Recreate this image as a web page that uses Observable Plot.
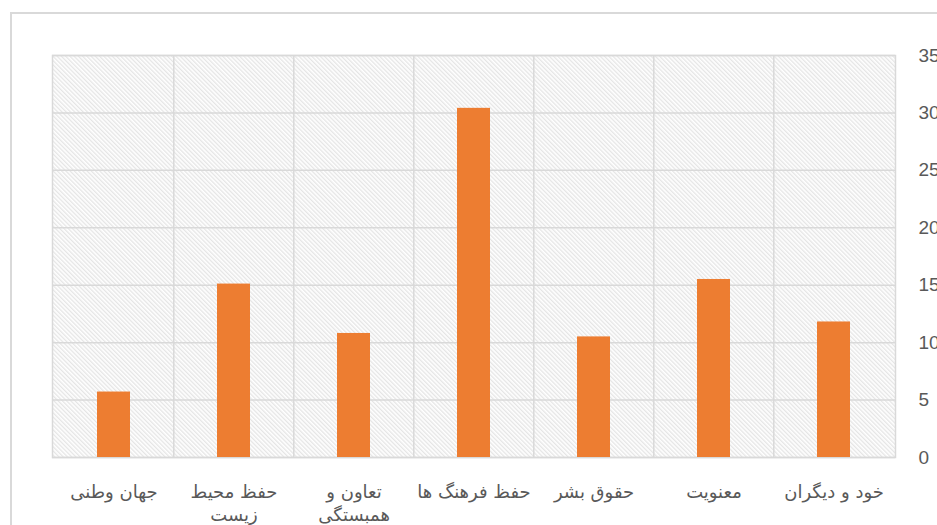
<!DOCTYPE html>
<html>
<head>
<meta charset="utf-8">
<script src="https://cdn.jsdelivr.net/npm/d3@7"></script>
<script src="https://cdn.jsdelivr.net/npm/@observablehq/plot@0.6"></script>
<style>
  html, body { margin: 0; padding: 0; background: #fff; overflow: hidden; }
  #wrap { position: relative; width: 937px; height: 525px; }
  #border { position: absolute; left: 10px; top: 12px; width: 1000px; height: 600px;
            border: 2px solid #d9d9d9; box-sizing: border-box; pointer-events: none; }
</style>
</head>
<body>
<div id="wrap"><div id="chart"></div><div id="border"></div></div>
<script>
// categories listed right-to-left as in the original chart
const categories = ["خود و دیگران", "معنویت", "حقوق بشر", "حفظ فرهنگ ها", "تعاون و همبستگی", "حفظ محیط زیست", "جهان وطنی"];
const values = [11.8, 15.5, 10.5, 30.4, 10.8, 15.1, 5.7];
const tickLabels = ["خود و دیگران", "معنویت", "حقوق بشر", "حفظ فرهنگ ها", "تعاون و\nهمبستگی", "حفظ محیط\nزیست", "جهان وطنی"];
const yTicks = [0, 5, 10, 15, 20, 25, 30, 35];

const data = categories.map((c, i) => ({category: c, value: values[i]}));
const labelOf = new Map(categories.map((c, i) => [c, tickLabels[i]]));
const domain = categories.slice().reverse();

const W = 937, H = 525, mL = 52, mR = 42, mT = 55, mB = 68;
const step = (W - mL - mR) / domain.length;

const chart = Plot.plot({
  width: W, height: H,
  marginLeft: mL, marginRight: mR, marginTop: mT, marginBottom: mB,
  style: {fontFamily: "DejaVu Sans", background: "white"},
  x: {domain, paddingInner: 0.725, paddingOuter: 0.3625},
  y: {domain: [0, 35]},
  marks: [
    Plot.frame({fill: "url(#hatch)", stroke: null}),
    Plot.gridY(yTicks, {stroke: "#d9d9d9", strokeOpacity: 1, strokeWidth: 1.5}),
    Plot.ruleX(domain.slice(1), {x: d => d, dx: -step / 2, stroke: "#d9d9d9", strokeWidth: 1.5}),
    Plot.frame({stroke: "#d9d9d9", strokeWidth: 1.5}),
    Plot.barY(data, {x: "category", y: "value", fill: "#ED7D31"}),
    Plot.axisY({anchor: "right", ticks: yTicks, tickSize: 0, tickPadding: 23, label: null,
                fontSize: 19, fill: "#595959", fontFamily: "Liberation Sans"}),
    Plot.axisX({tickSize: 0, tickPadding: 23, label: null, tickFormat: d => labelOf.get(d),
                fontSize: 18, fill: "#595959", lineHeight: 1.33, fontFamily: "DejaVu Sans"})
  ]
});

const svg = d3.select(chart);
const defs = svg.insert("defs", ":first-child");
const pat = defs.append("pattern")
  .attr("id", "hatch").attr("patternUnits", "userSpaceOnUse")
  .attr("width", 3).attr("height", 3)
  .attr("patternTransform", "rotate(-45)");
pat.append("rect").attr("width", 3).attr("height", 3).attr("fill", "#ffffff");
pat.append("line").attr("x1", 0.7).attr("y1", 0).attr("x2", 0.7).attr("y2", 3)
  .attr("stroke", "#e3e3e3").attr("stroke-width", 1.2);

document.getElementById("chart").appendChild(chart);
</script>
</body>
</html>
